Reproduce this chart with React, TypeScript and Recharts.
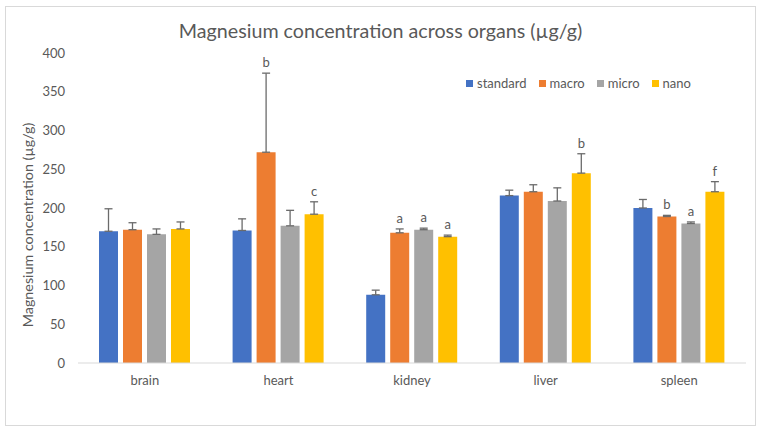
import { BarChart, Bar, XAxis, YAxis, ErrorBar, LabelList, Label } from 'recharts';

// Mg concentration (µg/g) per organ, four diet groups
const organs = ['brain', 'heart', 'kidney', 'liver', 'spleen'];

const standard = [170, 171, 88, 216, 200];
const macro = [172, 272, 168, 221, 189];
const micro = [166, 177, 172, 209, 180];
const nano = [173, 192, 163, 245, 221];

// upper error (SD) for each group
const standardErr = [29, 15, 6, 7, 11];
const macroErr = [9, 102, 5, 9, 1.5];
const microErr = [7, 20, 2, 17, 2];
const nanoErr = [9, 16, 2, 25, 13];

// significance letters above error bars
const macroSig = ['', 'b', 'a', '', 'b'];
const microSig = ['', '', 'a', '', 'a'];
const nanoSig = ['', 'c', 'a', 'b', 'f'];

const yTicks = [0, 50, 100, 150, 200, 250, 300, 350, 400];

const series = [
  { key: 'standard', name: 'standard', color: '#4472c4', values: standard, err: standardErr, sig: null },
  { key: 'macro', name: 'macro', color: '#ed7d31', values: macro, err: macroErr, sig: macroSig },
  { key: 'micro', name: 'micro', color: '#a5a5a5', values: micro, err: microErr, sig: microSig },
  { key: 'nano', name: 'nano', color: '#ffc000', values: nano, err: nanoErr, sig: nanoSig },
];

const data = organs.map((organ, i) => {
  const row: Record<string, any> = { organ };
  series.forEach((s) => {
    row[s.key] = s.values[i];
    row[s.key + 'Err'] = [0, s.err[i]];
  });
  return row;
});

const FONT = 'Lato, "Open Sans", sans-serif';
const TEXT = '#595959';

// letter sits just above the top of the error bar
const sigLabel = (letters: string[], errs: number[]) => (props: any) => {
  const { x, y, width, height, value, index } = props;
  const letter = letters[index];
  if (!letter) return null;
  const pxPerUnit = height / value;
  const top = y - errs[index] * pxPerUnit;
  return (
    <text x={x + width / 2} y={top - 6} textAnchor="middle" fill={TEXT} fontSize={13} fontFamily={FONT}>
      {letter}
    </text>
  );
};

// axis title sits a little below the middle of the plot
const yTitle = () => (
  <text
    transform="translate(27, 225) rotate(-90)"
    textAnchor="middle"
    dominantBaseline="central"
    fill={TEXT}
    fontSize={14.3}
    fontFamily={FONT}
  >
    Magnesium concentration (µg/g)
  </text>
);

export default function App() {
  return (
    <div style={{ position: 'absolute', left: 0, top: 0, width: 761, height: 431, background: '#fff' }}>
      <div
        style={{
          position: 'absolute',
          left: 5,
          top: 6,
          width: 749,
          height: 418,
          border: '1px solid #d9d9d9',
        }}
      />
      <div
        style={{
          position: 'absolute',
          left: 0,
          top: 19,
          width: 761,
          textAlign: 'center',
          fontFamily: FONT,
          fontSize: 19.7,
          color: TEXT,
        }}
      >
        Magnesium concentration across organs (µg/g)
      </div>
      {/* legend */}
      <div
        style={{
          position: 'absolute',
          left: 466,
          top: 75,
          display: 'flex',
          alignItems: 'center',
          fontFamily: FONT,
          fontSize: 13,
          color: TEXT,
          zIndex: 1,
        }}
      >
        {series.map((s) => (
          <div key={s.key} style={{ display: 'flex', alignItems: 'center', marginRight: 12 }}>
            <span style={{ width: 7, height: 7, background: s.color, display: 'inline-block', marginRight: 4 }} />
            <span>{s.name}</span>
          </div>
        ))}
      </div>
      <div style={{ position: 'absolute', left: 0, top: 0 }}>
        <BarChart
          width={761}
          height={431}
          data={data}
          margin={{ top: 53, right: 15, bottom: 38, left: 18 }}
          barSize={19}
          barGap={5}
        >
          <XAxis
            dataKey="organ"
            height={30}
            axisLine={{ stroke: '#d9d9d9' }}
            tickLine={false}
            tick={{ fill: TEXT, fontSize: 13, fontFamily: FONT }}
            tickMargin={7}
          />
          <YAxis
            width={60}
            domain={[0, 400]}
            ticks={yTicks}
            axisLine={false}
            tickLine={false}
            tickSize={0}
            tickMargin={13}
            tick={{ fill: TEXT, fontSize: 13, fontFamily: FONT }}
          >
            <Label content={yTitle} />
          </YAxis>
          {series.map((s) => (
            <Bar key={s.key} dataKey={s.key} name={s.name} fill={s.color} isAnimationActive={false}>
              <ErrorBar dataKey={s.key + 'Err'} width={4} stroke="#6b6b6b" strokeWidth={1.3} direction="y" />
              {s.sig && <LabelList dataKey={s.key} content={sigLabel(s.sig, s.err)} />}
            </Bar>
          ))}
        </BarChart>
      </div>
    </div>
  );
}
